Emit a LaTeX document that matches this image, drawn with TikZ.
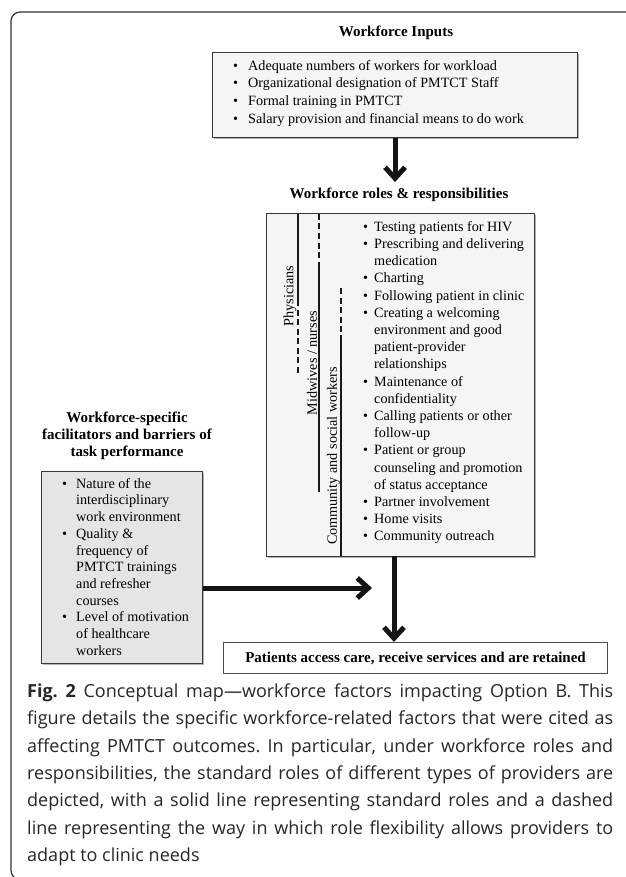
\documentclass[tikz,border=0pt]{standalone}
\usepackage{fontspec}
\setmainfont{Liberation Serif}
\newfontfamily\capfont{Open Sans}
\usetikzlibrary{arrows.meta,shadows}
\newcommand{\blt}[1]{\makebox[#1][l]{\textbullet}}
\newcommand{\ind}[1]{\hspace*{#1}}
\frenchspacing
\begin{document}
\begin{tikzpicture}[x=1pt,y=-1pt,
  boxst/.style={draw=black!78, line width=1.1pt, inner sep=0pt, anchor=north west,
    drop shadow={shadow xshift=1.4pt,shadow yshift=-1.4pt,opacity=0.3,fill=black}},
  titlest/.style={font=\bfseries\fontsize{15}{17}\selectfont, inner sep=0pt, align=center},
  listst/.style={inner sep=0pt, anchor=base west, align=left},
  rolelabel/.style={rotate=90, inner sep=0pt, font=\fontsize{14.2}{17}\selectfont},
  roleln/.style={line width=1.8pt, black!90},
  roledash/.style={line width=1.8pt, black!90, dash pattern=on 6pt off 3.5pt},
  bigarrow/.style={line width=5pt, black!92, -{Straight Barb[length=11pt,width=20pt]}}
]
\useasboundingbox (0,0) rectangle (625,877);
% outer frame
\draw[line width=1.2pt, black!80, rounded corners=9pt] (640,12) -- (11,12) -- (11,879.5) -- (60,879.5);

% Workforce inputs
\node[titlest, anchor=base] (ti) at (396,37) {Workforce Inputs};
\node[boxst, fill=black!4, minimum width=365pt, minimum height=85pt] (inp) at (212,52) {};
\node[listst, font=\fontsize{14.2}{17.7}\selectfont] (inpl) at (233,123.3) {%
\blt{15pt}Adequate numbers of workers for workload\\
\blt{15pt}Organizational designation of PMTCT Staff\\
\blt{15pt}Formal training in PMTCT\\
\blt{15pt}Salary provision and financial means to do work};

% Roles
\node[titlest, anchor=base] (tr) at (399,199) {Workforce roles \& responsibilities};
\node[boxst, fill=black!4, minimum width=268pt, minimum height=343pt] (roles) at (266,213) {};
\node[listst, font=\fontsize{14.2}{17.2}\selectfont] (rolesl) at (363,540.8) {%
\blt{11pt}Testing patients for HIV\\
\blt{11pt}Prescribing and delivering\\
\ind{11pt}medication\\
\blt{11pt}Charting\\
\blt{11pt}Following patient in clinic\\
\blt{11pt}Creating a welcoming\\
\ind{11pt}environment and good\\
\ind{11pt}patient-provider\\
\ind{11pt}relationships\\
\blt{11pt}Maintenance of\\
\ind{11pt}confidentiality\\
\blt{11pt}Calling patients or other\\
\ind{11pt}follow-up\\
\blt{11pt}Patient or group\\
\ind{11pt}counseling and promotion\\
\ind{11pt}of status acceptance\\
\blt{11pt}Partner involvement\\
\blt{11pt}Home visits\\
\blt{11pt}Community outreach};
% role lines
\draw[roleln] (298,214) -- (298,300);
\draw[roledash] (298,300) -- (298,373);
\draw[roledash] (319,214) -- (319,265);
\draw[roleln] (319,265) -- (319,492);
\draw[roledash] (341,288) -- (341,335);
\draw[roleln] (341,335) -- (341,556);
\node[rolelabel] (lphy) at (290,296) {Physicians};
\node[rolelabel] (lmid) at (312,363) {Midwives / nurses};
\node[rolelabel] (lcom) at (333.5,456) {Community and social workers};

% Facilitators
\node[titlest, anchor=base] (tf) at (127,456.5) {Workforce-specific\\facilitators and barriers of\\task performance};
\node[boxst, fill=black!10, minimum width=161pt, minimum height=192pt] (fac) at (41,471) {};
\node[listst, font=\fontsize{14.2}{16.7}\selectfont] (facl) at (62,655.2) {%
\blt{14pt}Nature of the\\
\ind{14pt}interdisciplinary\\
\ind{14pt}work environment\\
\blt{14pt}Quality \&\\
\ind{14pt}frequency of\\
\ind{14pt}PMTCT trainings\\
\ind{14pt}and refresher\\
\ind{14pt}courses\\
\blt{14pt}Level of motivation\\
\ind{14pt}of healthcare\\
\ind{14pt}workers};

% Outcome
\node[draw=black!70, line width=1.1pt, fill=white, minimum width=384pt, minimum height=31pt,
  anchor=north west, inner sep=0pt, font=\bfseries\fontsize{15}{17}\selectfont] (out) at (223,642)
  {Patients access care, receive services and are retained};

% arrows
\coordinate (a1e) at (inp.south |- 0,182);
\coordinate (a2s) at (fac.east |- 0,588);
\coordinate (a2e) at (372,588);
\coordinate (a3s) at (394,556);
\coordinate (a3e) at (a3s |- out.north);
\draw[bigarrow] (inp.south) -- (a1e);
\draw[bigarrow] (a2s) -- (a2e);
\draw[bigarrow] (a3s) -- (a3e);

% caption
\node[anchor=base west, text width=586pt, align=justify, inner sep=0pt,
  font=\capfont\fontsize{18}{27.3}\selectfont, text=black!85] (cap) at (27,697.5) {%
\textbf{Fig.\ 2} Conceptual map—workforce factors impacting Option B. This\linebreak
figure details the specific workforce-related factors that were cited as\linebreak
affecting PMTCT outcomes. In particular, under workforce roles and\linebreak
responsibilities, the standard roles of different types of providers are\linebreak
depicted, with a solid line representing standard roles and a dashed\linebreak
line representing the way in which role flexibility allows providers to\linebreak
adapt to clinic needs};
\end{tikzpicture}
\end{document}
